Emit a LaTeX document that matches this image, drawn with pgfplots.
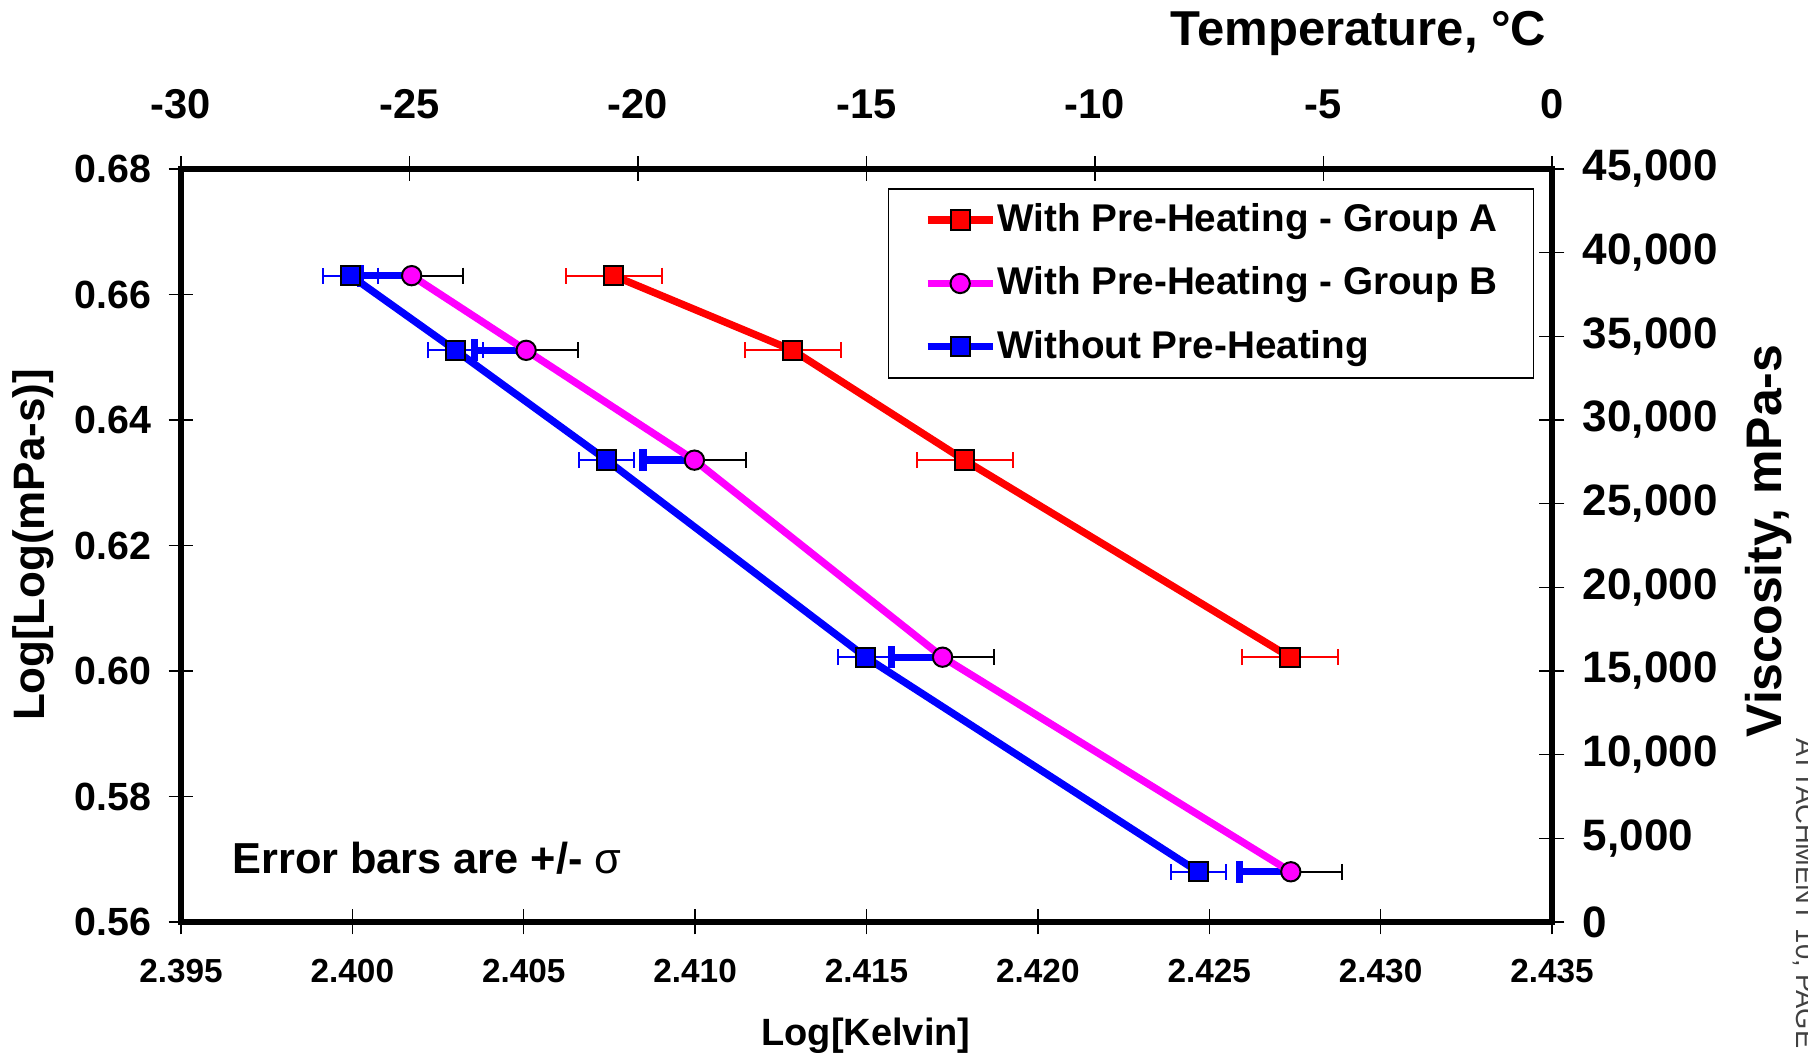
\documentclass[border=0pt]{standalone}
\usepackage{fontspec}
\setmainfont{Liberation Sans}
\usepackage{pgfplots}
\pgfplotsset{compat=1.18}
\usepackage{pgfplotstable}
\definecolor{mag}{RGB}{255,0,255}

% x = Log[Kelvin], y = Log[Log(mPa-s)], ex = sigma in x
\pgfplotstableread{
x       y      ex
2.40762 0.6630 0.0014
2.41285 0.6511 0.0014
2.41786 0.6336 0.0014
2.42736 0.6022 0.0014
}\groupA
\pgfplotstableread{
x       y      ex
2.40173 0.6630 0.0015
2.40507 0.6511 0.0015
2.40998 0.6336 0.0015
2.41722 0.6022 0.0015
2.42738 0.5680 0.0015
}\groupB
\pgfplotstableread{
x       y      ex
2.39995 0.6630 0.0008
2.40301 0.6511 0.0008
2.40742 0.6336 0.0008
2.41498 0.6022 0.0008
2.42468 0.5680 0.0008
}\nopre

\begin{document}
\begin{tikzpicture}
\pgfplotsset{
  chartbase/.style={
    scale only axis, width=411.3pt, height=225.9pt,
    axis line style={line width=1.8pt, black},
    tick style={black, line width=0.4pt},
    major tick length=7.5pt, tick align=center,
    /pgf/number format/assume math mode=true,
    scaled ticks=false,
  }
}
\begin{axis}[chartbase,
  xmin=2.395, xmax=2.435, ymin=0.56, ymax=0.68,
  xtick={2.395,2.400,2.405,2.410,2.415,2.420,2.425,2.430,2.435},
  ytick={0.56,0.58,0.60,0.62,0.64,0.66,0.68},
  xtick pos=left, ytick pos=left,
  xticklabel style={font=\fontsize{10}{12}\selectfont\bfseries, yshift=-3.8pt,
    /pgf/number format/fixed, /pgf/number format/fixed zerofill,
    /pgf/number format/precision=3},
  yticklabel style={font=\fontsize{11.8}{14}\selectfont\bfseries, xshift=-1.7pt,
    /pgf/number format/fixed, /pgf/number format/fixed zerofill,
    /pgf/number format/precision=2},
  legend style={at={(rel axis cs:0.5157,0.9744)}, anchor=north west,
    draw=black, line width=0.4pt, fill=white,
    inner xsep=10.6pt, inner ysep=4.4pt, row sep=9.1pt, column sep=0.4pt,
    nodes={inner sep=0pt},
    font={\fontsize{11.6}{13}\selectfont\bfseries}},
  legend cell align=left,
  legend image code/.code={\draw[mark repeat=2, mark phase=2, #1]
    plot coordinates {(0pt,0pt) (9.75pt,0pt) (19.5pt,0pt)};},
]
\addplot[red, line width=2.2pt, mark=square*, mark size=2.9pt,
  mark options={draw=black, fill=red, line width=0.6pt},
  error bars/.cd, x dir=both, x explicit,
  error bar style={red, line width=0.6pt},
  error mark options={red, rotate=90, line width=0.6pt, mark size=2.4pt}]
  table[x=x, y=y, x error=ex]{\groupA};
\addlegendentry{With Pre-Heating - Group A}

% minus side of group B sigma, drawn thick blue
\addplot[forget plot, only marks, mark=none,
  error bars/.cd, x dir=minus, x explicit,
  error bar style={blue, line width=2.2pt},
  error mark options={blue, rotate=90, line width=2.2pt, mark size=3.3pt}]
  table[x=x, y=y, x error=ex]{\groupB};

\addplot[mag, line width=2.2pt, mark=*, mark size=2.9pt,
  mark options={draw=black, fill=mag, line width=0.6pt},
  error bars/.cd, x dir=plus, x explicit,
  error bar style={black, line width=0.6pt},
  error mark options={black, rotate=90, line width=0.6pt, mark size=2.4pt}]
  table[x=x, y=y, x error=ex]{\groupB};
\addlegendentry{With Pre-Heating - Group B}

\addplot[blue, line width=2.2pt, mark=square*, mark size=2.9pt,
  mark options={draw=black, fill=blue, line width=0.6pt},
  error bars/.cd, x dir=both, x explicit,
  error bar style={blue, line width=0.6pt},
  error mark options={blue, rotate=90, line width=0.6pt, mark size=2.4pt}]
  table[x=x, y=y, x error=ex]{\nopre};
\addlegendentry{Without Pre-Heating}

\node[anchor=base west, inner sep=0pt, font=\fontsize{13}{15}\selectfont\bfseries]
  at (axis cs:2.39648,0.56776) {Error bars are +/- {\mdseries σ}};
\coordinate (bl) at (rel axis cs:0,0);
\end{axis}

\begin{axis}[chartbase,
  xmin=-30, xmax=0, ymin=0, ymax=45000,
  axis x line*=top, axis y line*=right,
  xtick={-30,-25,...,0}, ytick={0,5000,...,45000},
  xticklabel style={font=\fontsize{12.5}{14}\selectfont\bfseries, yshift=7.6pt},
  yticklabel style={font=\fontsize{13.2}{15}\selectfont\bfseries, xshift=2pt,
    /pgf/number format/1000 sep={,}},
]
\end{axis}

% pixel frame of the reference: x right, y down
\begin{scope}[x=0.3pt, y=-0.3pt, shift={(bl)}, shift={(-181,-922)}]
\pgfresetboundingbox
\path[use as bounding box] (0,0) rectangle (1808,1053);
\node[anchor=base east, inner sep=0pt, font=\fontsize{14.7}{17}\selectfont\bfseries]
  at (1547,46) {Temperature, °C};
\node[anchor=base, inner sep=0pt, font=\fontsize{11.4}{13}\selectfont\bfseries]
  at (866,1046) {Log[Kelvin]};
\node[anchor=base, rotate=90, inner sep=0pt, font=\fontsize{13.2}{15}\selectfont\bfseries]
  at (45,545) {Log[Log(mPa-s)]};
\node[anchor=base, rotate=90, inner sep=0pt, font=\fontsize{15}{17}\selectfont\bfseries]
  at (1781,541) {Viscosity, mPa-s};
\node[anchor=base west, rotate=-90, inner sep=0pt, text=black!75,
  font=\fontsize{8.2}{10}\selectfont] at (1796,738) {ATTACHMENT 10, PAGE};
\end{scope}
\end{tikzpicture}
\end{document}
